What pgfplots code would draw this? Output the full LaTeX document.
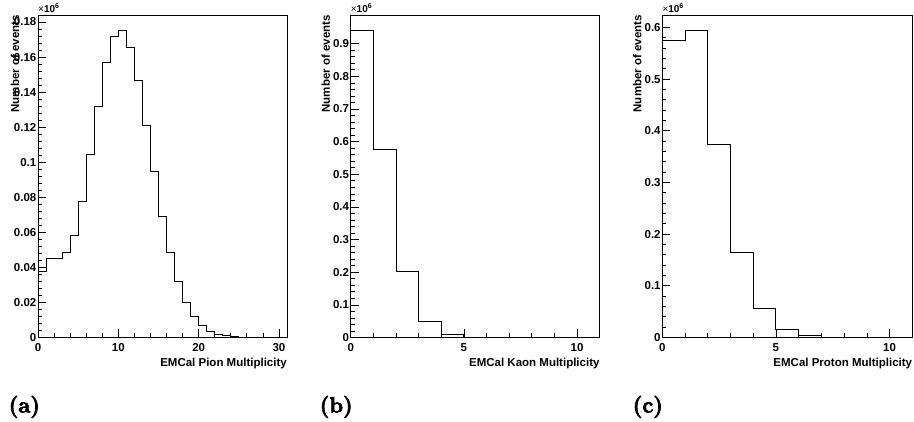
\documentclass[border=0pt]{standalone}
\usepackage{fontspec}
\usepackage{pgfplots}
\pgfplotsset{compat=1.18}
\newfontfamily\hv{Liberation Sans}
\newcommand{\panellabel}[1]{{\fontsize{22bp}{24bp}\selectfont\bfseries\special{pdf:literal 2 Tr 0.7 w}#1\special{pdf:literal 0 Tr}}}
\pgfplotstableread{
x y
0 0.0375
1 0.0451
2 0.0451
3 0.0486
4 0.0583
5 0.0777
6 0.1044
7 0.1318
8 0.1570
9 0.1716
10 0.1754
11 0.1655
12 0.1465
13 0.1210
14 0.0950
15 0.0691
16 0.0486
17 0.0318
18 0.0202
19 0.0120
20 0.0069
21 0.0036
22 0.0019
23 0.0010
24 0.0006
25 0.0003
26 0.0001
27 0
28 0
29 0
30 0
31 0
}\pion
\pgfplotstableread{
x y
0 0.940
1 0.575
2 0.203
3 0.049
4 0.010
5 0.0015
6 0.0002
7 0
8 0
9 0
10 0
11 0
}\kaon
\pgfplotstableread{
x y
0 0.575
1 0.594
2 0.3726
3 0.164
4 0.0554
5 0.0154
6 0.0030
7 0.0006
8 0
9 0
10 0
11 0
}\proton
\pgfplotsset{
  rootstyle/.style={
    scale only axis,
    width=249bp, height=322.5bp,
    anchor=south west,
    clip=false,
    axis line style={line width=0.9bp},
    tick pos=left,
    tick align=inside,
    major tick length=8bp,
    minor tick length=4bp,
    every tick/.style={black, line width=0.7bp},
    minor x tick num=4,
    minor y tick num=4,
    scaled y ticks=false,
    /pgf/number format/assume math mode=true,
    ymin=0, xmin=0,
    ticklabel style={font=\hv\bfseries\fontsize{11.5bp}{13bp}\selectfont},
    xticklabel style={inner sep=0pt, anchor=north, yshift=-5.5bp},
    yticklabel style={inner sep=0pt, anchor=east, xshift=-1.5bp},
    xlabel style={font=\hv\bfseries\fontsize{11.5bp}{13bp}\selectfont, at={(axis description cs:1,0)}, anchor=north east, inner sep=0pt, yshift=-20.5bp},
    ylabel style={font=\hv\bfseries\fontsize{11.5bp}{13bp}\selectfont, at={(axis description cs:-0.082,1)}, anchor=south east, inner sep=0pt},
    ylabel={Number of events},
  },
  histo/.style={black, line width=0.9bp, const plot mark left, mark=none},
}
\newcommand{\expo}{\node[anchor=south west, inner sep=0pt, font=\hv\fontsize{10bp}{11bp}\selectfont] at (axis description cs:0,1.006) {×\textbf{10}\raisebox{0.45em}{\fontsize{7bp}{8bp}\selectfont\textbf{6}}};}
\begin{document}
\begin{tikzpicture}
\useasboundingbox (0,0) rectangle (914bp,422bp);
% (a) Pion
\begin{axis}[rootstyle, at={(38bp,84.5bp)},
  xmax=31, ymax=0.184,
  xtick={0,10,20,30},
  ytick={0,0.02,0.04,0.06,0.08,0.1,0.12,0.14,0.16,0.18},
  yticklabels={0,0.02,0.04,0.06,0.08,0.1,0.12,0.14,0.16,0.18},
  minor x tick num=4,
  ylabel style={at={(axis description cs:-0.075,1)}},
  xlabel={EMCal Pion Multiplicity}]
\addplot[histo] table[x=x,y=y] {\pion};
\expo
\end{axis}
% (b) Kaon
\begin{axis}[rootstyle, at={(350.7bp,84.5bp)},
  xmax=11, ymax=0.988,
  xtick={0,5,10},
  ytick={0,0.1,0.2,0.3,0.4,0.5,0.6,0.7,0.8,0.9},
  yticklabels={0,0.1,0.2,0.3,0.4,0.5,0.6,0.7,0.8,0.9},
  xlabel={EMCal Kaon Multiplicity}]
\addplot[histo] table[x=x,y=y] {\kaon};
\expo
\end{axis}
% (c) Proton
\begin{axis}[rootstyle, at={(662.3bp,84.5bp)},
  width=250bp,
  xmax=11, ymax=0.624,
  xtick={0,5,10},
  ytick={0,0.1,0.2,0.3,0.4,0.5,0.6},
  yticklabels={0,0.1,0.2,0.3,0.4,0.5,0.6},
  xlabel={EMCal Proton Multiplicity}]
\addplot[histo] table[x=x,y=y] {\proton};
\expo
\end{axis}
\node[anchor=base west, inner sep=0pt] at (8.5bp,9.6bp) {\panellabel{(a)}};
\node[anchor=base west, inner sep=0pt] at (319.5bp,9.6bp) {\panellabel{(b)}};
\node[anchor=base west, inner sep=0pt] at (632.5bp,9.6bp) {\panellabel{(c)}};
\end{tikzpicture}
\end{document}
